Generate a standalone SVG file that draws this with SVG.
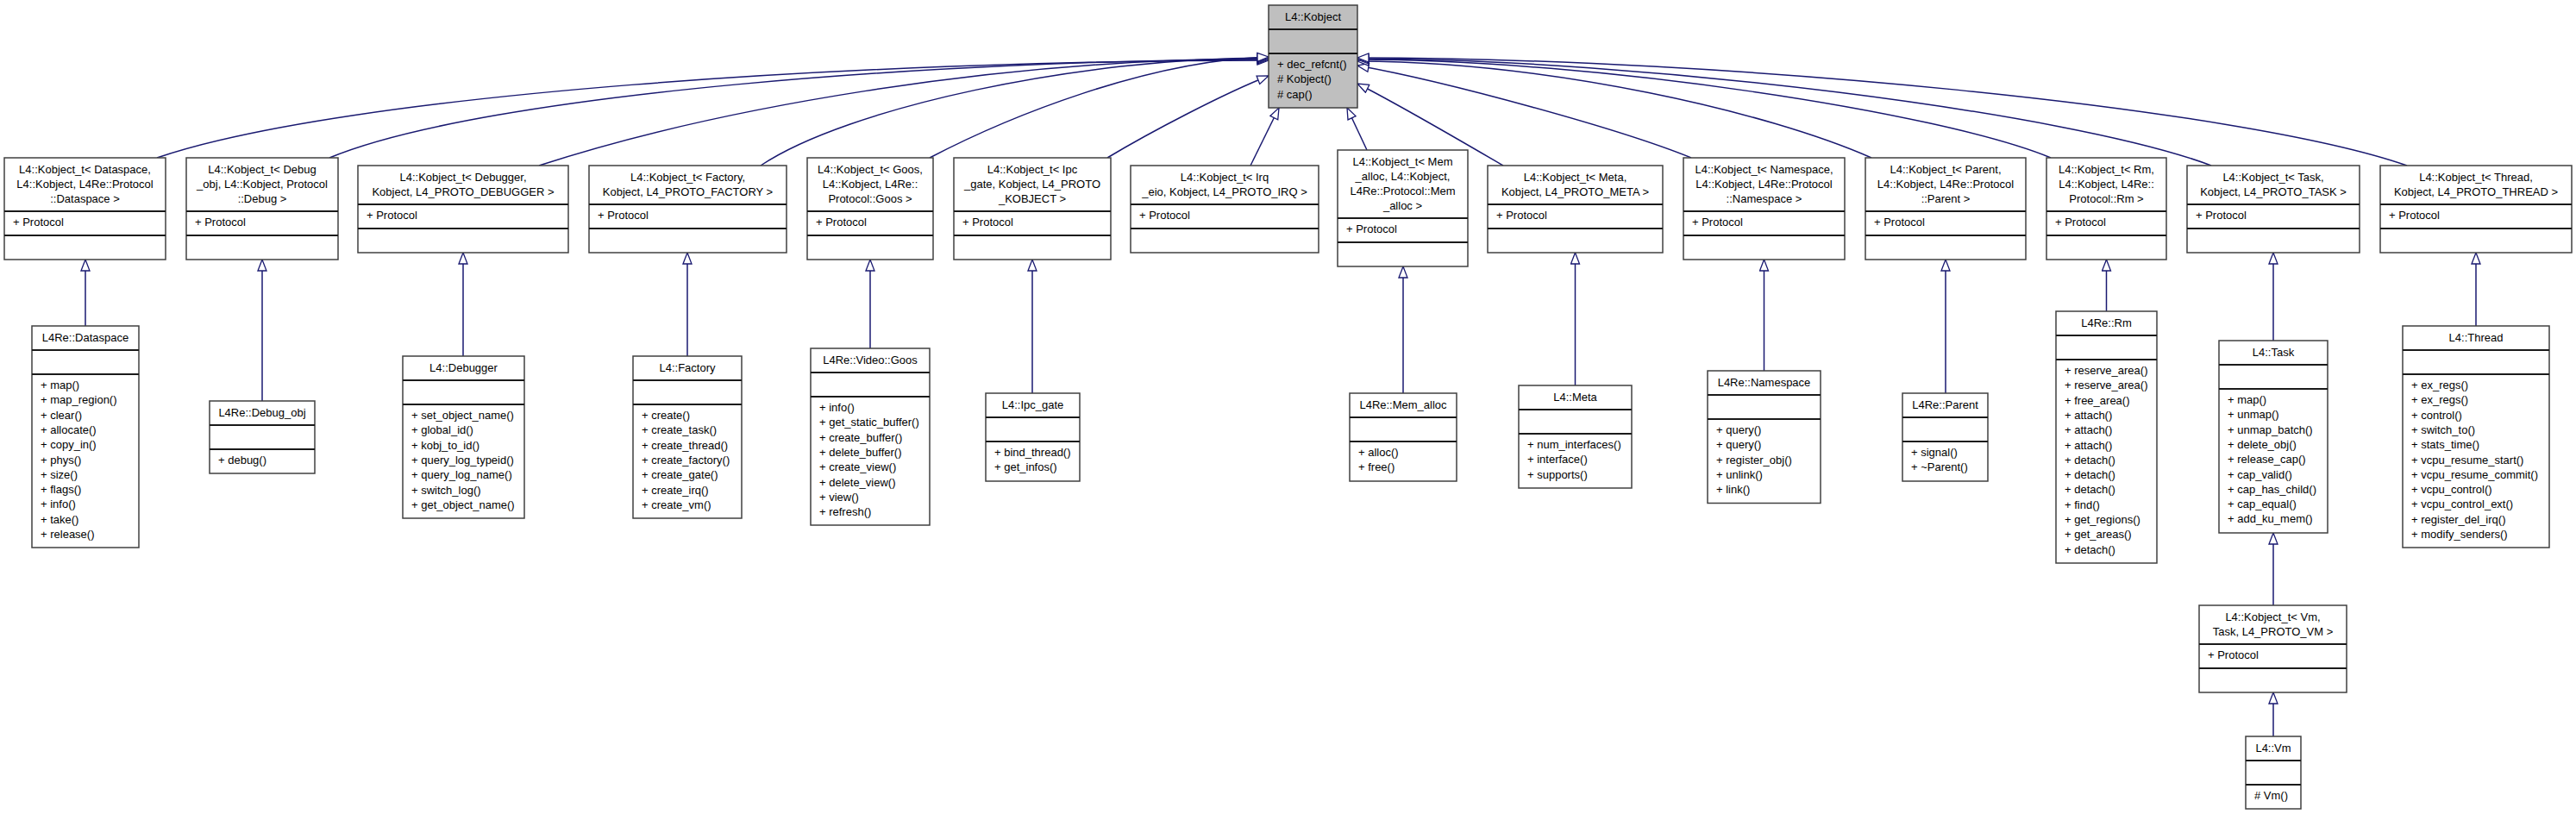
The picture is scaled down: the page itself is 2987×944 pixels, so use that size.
<svg xmlns="http://www.w3.org/2000/svg" width="2987" height="944" viewBox="0 0 2987 944">
<style>
.b{fill:#fff;stroke:#404040;stroke-width:1.5}
.k{fill:#bfbfbf;stroke:#404040;stroke-width:1.5}
.s{stroke:#1a1a1a;stroke-width:2}
text{font-family:"Liberation Sans",Arial,sans-serif;font-size:13px;fill:#000}
.c{text-anchor:middle}
.e{fill:none;stroke:#191970;stroke-width:1.5}
</style>
<defs>
<marker id="a" markerUnits="userSpaceOnUse" markerWidth="15" markerHeight="12" viewBox="-1 -1 15 12" refX="13" refY="5" orient="auto">
<path d="M0,0 L13,5 L0,10 Z" fill="#fff" stroke="#191970" stroke-width="1.3"/>
</marker>
</defs>
<rect width="2987" height="944" fill="#fff"/>
<g id="connectors">
<path class="e" marker-end="url(#a)" d="M99,378 L99,301"/>
<path class="e" marker-end="url(#a)" d="M304,465 L304,301"/>
<path class="e" marker-end="url(#a)" d="M537,413 L537,293"/>
<path class="e" marker-end="url(#a)" d="M797,413 L797,293"/>
<path class="e" marker-end="url(#a)" d="M1009,404 L1009,301"/>
<path class="e" marker-end="url(#a)" d="M1197,456 L1197,301"/>
<path class="e" marker-end="url(#a)" d="M1627,456 L1627,309"/>
<path class="e" marker-end="url(#a)" d="M1826.5,447 L1826.5,293"/>
<path class="e" marker-end="url(#a)" d="M2045.5,430 L2045.5,301"/>
<path class="e" marker-end="url(#a)" d="M2256,456 L2256,301"/>
<path class="e" marker-end="url(#a)" d="M2442.5,361 L2442.5,301"/>
<path class="e" marker-end="url(#a)" d="M2636,395 L2636,293"/>
<path class="e" marker-end="url(#a)" d="M2871,378 L2871,293"/>
<path class="e" marker-end="url(#a)" d="M2636,702 L2636,618"/>
<path class="e" marker-end="url(#a)" d="M2636,854 L2636,803"/>
<path class="e" marker-end="url(#a)" d="M182,183 C402,108 1000,70 1471,70"/>
<path class="e" marker-end="url(#a)" d="M382,183 C562,108 1100,69 1471,69"/>
<path class="e" marker-end="url(#a)" d="M625,192 C825,127 1150,68 1471,68"/>
<path class="e" marker-end="url(#a)" d="M882,192 C982,125 1250,67 1471,67"/>
<path class="e" marker-end="url(#a)" d="M1078,183 C1168,136 1330,70 1471,66"/>
<path class="e" marker-end="url(#a)" d="M1284,183 C1334,153 1420,108 1471,88"/>
<path class="e" marker-end="url(#a)" d="M1450,192 L1483,125"/>
<path class="e" marker-end="url(#a)" d="M1585,174 L1562,125"/>
<path class="e" marker-end="url(#a)" d="M1743,192 C1700,167 1620,120 1574,97"/>
<path class="e" marker-end="url(#a)" d="M1961,183 C1880,150 1680,95 1574,76"/>
<path class="e" marker-end="url(#a)" d="M2170,183 C2050,130 1800,72 1574,71"/>
<path class="e" marker-end="url(#a)" d="M2378,183 C2250,130 1850,69 1574,69"/>
<path class="e" marker-end="url(#a)" d="M2564,192 C2400,130 1900,68 1574,68"/>
<path class="e" marker-end="url(#a)" d="M2791,192 C2600,125 2000,67 1574,67"/>
</g>
<g id="kobject">
<rect class="k" x="1471" y="6" width="103" height="119"/>
<line class="s" x1="1471" y1="34" x2="1574" y2="34"/><line class="s" x1="1471" y1="62" x2="1574" y2="62"/>
<text class="c" x="1522.5" y="23.5">L4::Kobject</text>
<text x="1481" y="79"><tspan x="1481">+ dec_refcnt()</tspan><tspan x="1481" dy="17.3"># Kobject()</tspan><tspan x="1481" dy="17.3"># cap()</tspan></text>
</g>
<g id="t_dataspace">
<rect class="b" x="5" y="183" width="187" height="118"/>
<line class="s" x1="5" y1="245" x2="192" y2="245"/><line class="s" x1="5" y1="273" x2="192" y2="273"/>
<text class="c" x="98.5" y="200.5"><tspan x="98.5">L4::Kobject_t&lt; Dataspace,</tspan><tspan x="98.5" dy="17">L4::Kobject, L4Re::Protocol</tspan><tspan x="98.5" dy="17">::Dataspace &gt;</tspan></text>
<text x="15" y="262">+ Protocol</text>
</g>
<g id="t_debug">
<rect class="b" x="216" y="183" width="176" height="118"/>
<line class="s" x1="216" y1="245" x2="392" y2="245"/><line class="s" x1="216" y1="273" x2="392" y2="273"/>
<text class="c" x="304" y="200.5"><tspan x="304">L4::Kobject_t&lt; Debug</tspan><tspan x="304" dy="17">_obj, L4::Kobject, Protocol</tspan><tspan x="304" dy="17">::Debug &gt;</tspan></text>
<text x="226" y="262">+ Protocol</text>
</g>
<g id="t_debugger">
<rect class="b" x="415" y="192" width="244" height="101"/>
<line class="s" x1="415" y1="237" x2="659" y2="237"/><line class="s" x1="415" y1="265" x2="659" y2="265"/>
<text class="c" x="537" y="209.5"><tspan x="537">L4::Kobject_t&lt; Debugger,</tspan><tspan x="537" dy="17">Kobject, L4_PROTO_DEBUGGER &gt;</tspan></text>
<text x="425" y="254">+ Protocol</text>
</g>
<g id="t_factory">
<rect class="b" x="683" y="192" width="229" height="101"/>
<line class="s" x1="683" y1="237" x2="912" y2="237"/><line class="s" x1="683" y1="265" x2="912" y2="265"/>
<text class="c" x="797.5" y="209.5"><tspan x="797.5">L4::Kobject_t&lt; Factory,</tspan><tspan x="797.5" dy="17">Kobject, L4_PROTO_FACTORY &gt;</tspan></text>
<text x="693" y="254">+ Protocol</text>
</g>
<g id="t_goos">
<rect class="b" x="936" y="183" width="146" height="118"/>
<line class="s" x1="936" y1="245" x2="1082" y2="245"/><line class="s" x1="936" y1="273" x2="1082" y2="273"/>
<text class="c" x="1009" y="200.5"><tspan x="1009">L4::Kobject_t&lt; Goos,</tspan><tspan x="1009" dy="17">L4::Kobject, L4Re::</tspan><tspan x="1009" dy="17">Protocol::Goos &gt;</tspan></text>
<text x="946" y="262">+ Protocol</text>
</g>
<g id="t_ipc_gate">
<rect class="b" x="1106" y="183" width="182" height="118"/>
<line class="s" x1="1106" y1="245" x2="1288" y2="245"/><line class="s" x1="1106" y1="273" x2="1288" y2="273"/>
<text class="c" x="1197" y="200.5"><tspan x="1197">L4::Kobject_t&lt; Ipc</tspan><tspan x="1197" dy="17">_gate, Kobject, L4_PROTO</tspan><tspan x="1197" dy="17">_KOBJECT &gt;</tspan></text>
<text x="1116" y="262">+ Protocol</text>
</g>
<g id="t_irq">
<rect class="b" x="1311" y="192" width="218" height="101"/>
<line class="s" x1="1311" y1="237" x2="1529" y2="237"/><line class="s" x1="1311" y1="265" x2="1529" y2="265"/>
<text class="c" x="1420" y="209.5"><tspan x="1420">L4::Kobject_t&lt; Irq</tspan><tspan x="1420" dy="17">_eio, Kobject, L4_PROTO_IRQ &gt;</tspan></text>
<text x="1321" y="254">+ Protocol</text>
</g>
<g id="t_mem_alloc">
<rect class="b" x="1551" y="174" width="151" height="135"/>
<line class="s" x1="1551" y1="253" x2="1702" y2="253"/><line class="s" x1="1551" y1="281" x2="1702" y2="281"/>
<text class="c" x="1626.5" y="191.5"><tspan x="1626.5">L4::Kobject_t&lt; Mem</tspan><tspan x="1626.5" dy="17">_alloc, L4::Kobject,</tspan><tspan x="1626.5" dy="17">L4Re::Protocol::Mem</tspan><tspan x="1626.5" dy="17">_alloc &gt;</tspan></text>
<text x="1561" y="270">+ Protocol</text>
</g>
<g id="t_meta">
<rect class="b" x="1725" y="192" width="203" height="101"/>
<line class="s" x1="1725" y1="237" x2="1928" y2="237"/><line class="s" x1="1725" y1="265" x2="1928" y2="265"/>
<text class="c" x="1826.5" y="209.5"><tspan x="1826.5">L4::Kobject_t&lt; Meta,</tspan><tspan x="1826.5" dy="17">Kobject, L4_PROTO_META &gt;</tspan></text>
<text x="1735" y="254">+ Protocol</text>
</g>
<g id="t_namespace">
<rect class="b" x="1952" y="183" width="187" height="118"/>
<line class="s" x1="1952" y1="245" x2="2139" y2="245"/><line class="s" x1="1952" y1="273" x2="2139" y2="273"/>
<text class="c" x="2045.5" y="200.5"><tspan x="2045.5">L4::Kobject_t&lt; Namespace,</tspan><tspan x="2045.5" dy="17">L4::Kobject, L4Re::Protocol</tspan><tspan x="2045.5" dy="17">::Namespace &gt;</tspan></text>
<text x="1962" y="262">+ Protocol</text>
</g>
<g id="t_parent">
<rect class="b" x="2163" y="183" width="186" height="118"/>
<line class="s" x1="2163" y1="245" x2="2349" y2="245"/><line class="s" x1="2163" y1="273" x2="2349" y2="273"/>
<text class="c" x="2256" y="200.5"><tspan x="2256">L4::Kobject_t&lt; Parent,</tspan><tspan x="2256" dy="17">L4::Kobject, L4Re::Protocol</tspan><tspan x="2256" dy="17">::Parent &gt;</tspan></text>
<text x="2173" y="262">+ Protocol</text>
</g>
<g id="t_rm">
<rect class="b" x="2373" y="183" width="139" height="118"/>
<line class="s" x1="2373" y1="245" x2="2512" y2="245"/><line class="s" x1="2373" y1="273" x2="2512" y2="273"/>
<text class="c" x="2442.5" y="200.5"><tspan x="2442.5">L4::Kobject_t&lt; Rm,</tspan><tspan x="2442.5" dy="17">L4::Kobject, L4Re::</tspan><tspan x="2442.5" dy="17">Protocol::Rm &gt;</tspan></text>
<text x="2383" y="262">+ Protocol</text>
</g>
<g id="t_task">
<rect class="b" x="2536" y="192" width="200" height="101"/>
<line class="s" x1="2536" y1="237" x2="2736" y2="237"/><line class="s" x1="2536" y1="265" x2="2736" y2="265"/>
<text class="c" x="2636" y="209.5"><tspan x="2636">L4::Kobject_t&lt; Task,</tspan><tspan x="2636" dy="17">Kobject, L4_PROTO_TASK &gt;</tspan></text>
<text x="2546" y="254">+ Protocol</text>
</g>
<g id="t_thread">
<rect class="b" x="2760" y="192" width="222" height="101"/>
<line class="s" x1="2760" y1="237" x2="2982" y2="237"/><line class="s" x1="2760" y1="265" x2="2982" y2="265"/>
<text class="c" x="2871" y="209.5"><tspan x="2871">L4::Kobject_t&lt; Thread,</tspan><tspan x="2871" dy="17">Kobject, L4_PROTO_THREAD &gt;</tspan></text>
<text x="2770" y="254">+ Protocol</text>
</g>
<g id="t_vm">
<rect class="b" x="2550" y="702" width="171" height="101"/>
<line class="s" x1="2550" y1="747" x2="2721" y2="747"/><line class="s" x1="2550" y1="775" x2="2721" y2="775"/>
<text class="c" x="2635.5" y="719.5"><tspan x="2635.5">L4::Kobject_t&lt; Vm,</tspan><tspan x="2635.5" dy="17">Task, L4_PROTO_VM &gt;</tspan></text>
<text x="2560" y="764">+ Protocol</text>
</g>
<g id="dataspace">
<rect class="b" x="37" y="378" width="124" height="257"/>
<line class="s" x1="37" y1="406" x2="161" y2="406"/><line class="s" x1="37" y1="434" x2="161" y2="434"/>
<text class="c" x="99" y="395.5">L4Re::Dataspace</text>
<text x="47" y="451"><tspan x="47">+ map()</tspan><tspan x="47" dy="17.3">+ map_region()</tspan><tspan x="47" dy="17.3">+ clear()</tspan><tspan x="47" dy="17.3">+ allocate()</tspan><tspan x="47" dy="17.3">+ copy_in()</tspan><tspan x="47" dy="17.3">+ phys()</tspan><tspan x="47" dy="17.3">+ size()</tspan><tspan x="47" dy="17.3">+ flags()</tspan><tspan x="47" dy="17.3">+ info()</tspan><tspan x="47" dy="17.3">+ take()</tspan><tspan x="47" dy="17.3">+ release()</tspan></text>
</g>
<g id="debug_obj">
<rect class="b" x="243" y="465" width="122" height="84"/>
<line class="s" x1="243" y1="493" x2="365" y2="493"/><line class="s" x1="243" y1="521" x2="365" y2="521"/>
<text class="c" x="304" y="482.5">L4Re::Debug_obj</text>
<text x="253" y="538">+ debug()</text>
</g>
<g id="debugger">
<rect class="b" x="467" y="413" width="141" height="188"/>
<line class="s" x1="467" y1="441" x2="608" y2="441"/><line class="s" x1="467" y1="469" x2="608" y2="469"/>
<text class="c" x="537.5" y="430.5">L4::Debugger</text>
<text x="477" y="486"><tspan x="477">+ set_object_name()</tspan><tspan x="477" dy="17.3">+ global_id()</tspan><tspan x="477" dy="17.3">+ kobj_to_id()</tspan><tspan x="477" dy="17.3">+ query_log_typeid()</tspan><tspan x="477" dy="17.3">+ query_log_name()</tspan><tspan x="477" dy="17.3">+ switch_log()</tspan><tspan x="477" dy="17.3">+ get_object_name()</tspan></text>
</g>
<g id="factory">
<rect class="b" x="734" y="413" width="126" height="188"/>
<line class="s" x1="734" y1="441" x2="860" y2="441"/><line class="s" x1="734" y1="469" x2="860" y2="469"/>
<text class="c" x="797" y="430.5">L4::Factory</text>
<text x="744" y="486"><tspan x="744">+ create()</tspan><tspan x="744" dy="17.3">+ create_task()</tspan><tspan x="744" dy="17.3">+ create_thread()</tspan><tspan x="744" dy="17.3">+ create_factory()</tspan><tspan x="744" dy="17.3">+ create_gate()</tspan><tspan x="744" dy="17.3">+ create_irq()</tspan><tspan x="744" dy="17.3">+ create_vm()</tspan></text>
</g>
<g id="video_goos">
<rect class="b" x="940" y="404" width="138" height="205"/>
<line class="s" x1="940" y1="432" x2="1078" y2="432"/><line class="s" x1="940" y1="460" x2="1078" y2="460"/>
<text class="c" x="1009" y="421.5">L4Re::Video::Goos</text>
<text x="950" y="477"><tspan x="950">+ info()</tspan><tspan x="950" dy="17.3">+ get_static_buffer()</tspan><tspan x="950" dy="17.3">+ create_buffer()</tspan><tspan x="950" dy="17.3">+ delete_buffer()</tspan><tspan x="950" dy="17.3">+ create_view()</tspan><tspan x="950" dy="17.3">+ delete_view()</tspan><tspan x="950" dy="17.3">+ view()</tspan><tspan x="950" dy="17.3">+ refresh()</tspan></text>
</g>
<g id="ipc_gate">
<rect class="b" x="1143" y="456" width="109" height="102"/>
<line class="s" x1="1143" y1="484" x2="1252" y2="484"/><line class="s" x1="1143" y1="512" x2="1252" y2="512"/>
<text class="c" x="1197.5" y="473.5">L4::Ipc_gate</text>
<text x="1153" y="529"><tspan x="1153">+ bind_thread()</tspan><tspan x="1153" dy="17.3">+ get_infos()</tspan></text>
</g>
<g id="mem_alloc">
<rect class="b" x="1565" y="456" width="124" height="102"/>
<line class="s" x1="1565" y1="484" x2="1689" y2="484"/><line class="s" x1="1565" y1="512" x2="1689" y2="512"/>
<text class="c" x="1627" y="473.5">L4Re::Mem_alloc</text>
<text x="1575" y="529"><tspan x="1575">+ alloc()</tspan><tspan x="1575" dy="17.3">+ free()</tspan></text>
</g>
<g id="meta">
<rect class="b" x="1761" y="447" width="131" height="119"/>
<line class="s" x1="1761" y1="475" x2="1892" y2="475"/><line class="s" x1="1761" y1="503" x2="1892" y2="503"/>
<text class="c" x="1826.5" y="464.5">L4::Meta</text>
<text x="1771" y="520"><tspan x="1771">+ num_interfaces()</tspan><tspan x="1771" dy="17.3">+ interface()</tspan><tspan x="1771" dy="17.3">+ supports()</tspan></text>
</g>
<g id="namespace">
<rect class="b" x="1980" y="430" width="131" height="153.5"/>
<line class="s" x1="1980" y1="458" x2="2111" y2="458"/><line class="s" x1="1980" y1="486" x2="2111" y2="486"/>
<text class="c" x="2045.5" y="447.5">L4Re::Namespace</text>
<text x="1990" y="503"><tspan x="1990">+ query()</tspan><tspan x="1990" dy="17.3">+ query()</tspan><tspan x="1990" dy="17.3">+ register_obj()</tspan><tspan x="1990" dy="17.3">+ unlink()</tspan><tspan x="1990" dy="17.3">+ link()</tspan></text>
</g>
<g id="parent">
<rect class="b" x="2206" y="456" width="99" height="102"/>
<line class="s" x1="2206" y1="484" x2="2305" y2="484"/><line class="s" x1="2206" y1="512" x2="2305" y2="512"/>
<text class="c" x="2255.5" y="473.5">L4Re::Parent</text>
<text x="2216" y="529"><tspan x="2216">+ signal()</tspan><tspan x="2216" dy="17.3">+ ~Parent()</tspan></text>
</g>
<g id="rm">
<rect class="b" x="2384" y="361" width="117" height="292"/>
<line class="s" x1="2384" y1="389" x2="2501" y2="389"/><line class="s" x1="2384" y1="417" x2="2501" y2="417"/>
<text class="c" x="2442.5" y="378.5">L4Re::Rm</text>
<text x="2394" y="434"><tspan x="2394">+ reserve_area()</tspan><tspan x="2394" dy="17.3">+ reserve_area()</tspan><tspan x="2394" dy="17.3">+ free_area()</tspan><tspan x="2394" dy="17.3">+ attach()</tspan><tspan x="2394" dy="17.3">+ attach()</tspan><tspan x="2394" dy="17.3">+ attach()</tspan><tspan x="2394" dy="17.3">+ detach()</tspan><tspan x="2394" dy="17.3">+ detach()</tspan><tspan x="2394" dy="17.3">+ detach()</tspan><tspan x="2394" dy="17.3">+ find()</tspan><tspan x="2394" dy="17.3">+ get_regions()</tspan><tspan x="2394" dy="17.3">+ get_areas()</tspan><tspan x="2394" dy="17.3">+ detach()</tspan></text>
</g>
<g id="task">
<rect class="b" x="2573" y="395" width="126" height="223"/>
<line class="s" x1="2573" y1="423" x2="2699" y2="423"/><line class="s" x1="2573" y1="451" x2="2699" y2="451"/>
<text class="c" x="2636" y="412.5">L4::Task</text>
<text x="2583" y="468"><tspan x="2583">+ map()</tspan><tspan x="2583" dy="17.3">+ unmap()</tspan><tspan x="2583" dy="17.3">+ unmap_batch()</tspan><tspan x="2583" dy="17.3">+ delete_obj()</tspan><tspan x="2583" dy="17.3">+ release_cap()</tspan><tspan x="2583" dy="17.3">+ cap_valid()</tspan><tspan x="2583" dy="17.3">+ cap_has_child()</tspan><tspan x="2583" dy="17.3">+ cap_equal()</tspan><tspan x="2583" dy="17.3">+ add_ku_mem()</tspan></text>
</g>
<g id="thread">
<rect class="b" x="2786" y="378" width="170" height="257"/>
<line class="s" x1="2786" y1="406" x2="2956" y2="406"/><line class="s" x1="2786" y1="434" x2="2956" y2="434"/>
<text class="c" x="2871" y="395.5">L4::Thread</text>
<text x="2796" y="451"><tspan x="2796">+ ex_regs()</tspan><tspan x="2796" dy="17.3">+ ex_regs()</tspan><tspan x="2796" dy="17.3">+ control()</tspan><tspan x="2796" dy="17.3">+ switch_to()</tspan><tspan x="2796" dy="17.3">+ stats_time()</tspan><tspan x="2796" dy="17.3">+ vcpu_resume_start()</tspan><tspan x="2796" dy="17.3">+ vcpu_resume_commit()</tspan><tspan x="2796" dy="17.3">+ vcpu_control()</tspan><tspan x="2796" dy="17.3">+ vcpu_control_ext()</tspan><tspan x="2796" dy="17.3">+ register_del_irq()</tspan><tspan x="2796" dy="17.3">+ modify_senders()</tspan></text>
</g>
<g id="vm">
<rect class="b" x="2604" y="854" width="64" height="84"/>
<line class="s" x1="2604" y1="882" x2="2668" y2="882"/><line class="s" x1="2604" y1="910" x2="2668" y2="910"/>
<text class="c" x="2636" y="871.5">L4::Vm</text>
<text x="2614" y="927"># Vm()</text>
</g>
</svg>
